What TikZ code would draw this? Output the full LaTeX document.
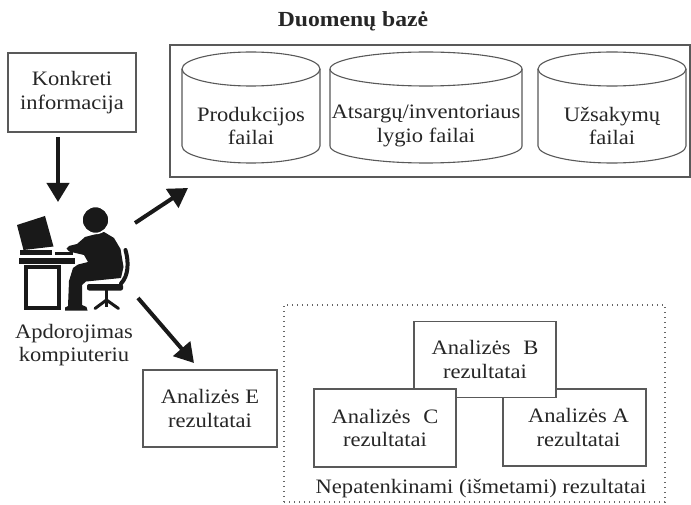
\documentclass[tikz,border=0pt]{standalone}
\usepackage{fontspec}
\setmainfont{Liberation Serif}[FakeStretch=1.1]
\usetikzlibrary{arrows.meta}
\begin{document}
\begin{tikzpicture}[x=1pt,y=-1pt,
  txt/.style={text=black!85, font=\fontsize{20.5}{23.5}\selectfont, align=center, inner sep=0pt},
  box/.style={draw=black!65, line width=1.3pt, fill=white, inner sep=0pt},
  outline/.style={draw=black!65, line width=1.1pt},
  bigarrow/.style={line width=4pt, -{Triangle[length=19pt,width=22pt]}, black!90},
  icon/.style={fill=black!90}]
\useasboundingbox (0,0) rectangle (691,505);

% ---------- database ----------
\node[txt, font=\bfseries\fontsize{21.5}{24}\selectfont, anchor=base] (title) at (353,27) {Duomenų bazė};
\node[box, minimum width=520pt, minimum height=132pt] (db) at (430,111) {};

% cylinders: side lines with front arc, then the top ellipse
\draw[outline] (182,69) -- (182,146) arc[start angle=180, end angle=0, x radius=69, y radius=17] -- (320,69);
\draw[outline] (251,69) ellipse [x radius=69, y radius=17];
\node[txt] (prod) at (251,126) {Produkcijos\\failai};

\draw[outline] (330,69) -- (330,146) arc[start angle=180, end angle=0, x radius=96, y radius=17] -- (522,69);
\draw[outline] (426,69) ellipse [x radius=96, y radius=17];
\node[txt] (stock) at (426,126) {Atsargų/inventoriaus\\lygio failai};

\draw[outline] (538,69) -- (538,146) arc[start angle=180, end angle=0, x radius=74, y radius=17] -- (686,69);
\draw[outline] (612,69) ellipse [x radius=74, y radius=17];
\node[txt] (orders) at (612,126) {Užsakymų\\failai};

% ---------- input ----------
\node[box, txt, minimum width=128pt, minimum height=79pt] (info) at (72,92.5) {Konkreti\\informacija};

% ---------- person at the computer ----------
% monitor and stand
\fill[icon] (17,225) -- (45,216) -- (53.5,246.5) -- (23.5,250) -- cycle;
\fill[icon] (20,250.5) rectangle (52,255);
% keyboard
\fill[icon] (55,252) rectangle (73,255.5);
% desk top and frame
\fill[icon] (19,258.5) rectangle (75,264);
\draw[black!90, line width=4.5pt] (25.8,267) rectangle (59.2,308);
% body
\fill[icon] (85,237) -- (77,244) -- (69,246) -- (66.5,248.5) -- (69,251.5) -- (84,255)
  -- (88,262) -- (78,264.5) -- (73,268) -- (69,281) -- (68,306) -- (65,307.5) -- (65,310.5)
  -- (87.5,310.5) -- (86.5,307) -- (82,305) -- (82,285) -- (86,281.5) -- (121,278)
  -- (123.5,267) -- (120.5,249) -- (114,238) -- (104,232) -- cycle;
% head
\filldraw[fill=black!90, draw=white, line width=1.5pt] (95.5,220) circle[radius=13.5];
% chair
\draw[black!90, line width=4pt, line cap=round] (125.5,250) .. controls (129,262) and (128.5,276) .. (121,283.5);
\fill[icon, rounded corners=2pt] (87,284) rectangle (123,290.5);
\draw[black!90, line width=3.5pt] (106.5,290) -- (106.5,301);
\draw[black!90, line width=3pt, line cap=round] (95,308.5) -- (106.5,300) -- (118.5,308.5);
\draw[black!90, line width=3pt] (106.5,300) -- (106.5,307);
\node[txt] (pc) at (74,345) {Apdorojimas\\kompiuteriu};

% arrow end points
\coordinate (inS) at (58,137);
\coordinate (inE) at (58,202);
\coordinate (upS) at (135,223);
\coordinate (upE) at (188,188);
\coordinate (dnS) at (138,298);
\coordinate (dnE) at (194,363);
\draw[bigarrow] (inS) -- (inE);
\draw[bigarrow] (upS) -- (upE);
\draw[bigarrow] (dnS) -- (dnE);

% ---------- results ----------
\node[box, txt, minimum width=134pt, minimum height=77pt] (resE) at (210,408.5) {Analizės E\\rezultatai};

\node[draw=black!60, line width=1.2pt, dash pattern=on 1.2pt off 3.8pt,
      minimum width=381pt, minimum height=197pt, inner sep=0pt] (rejected) at (474.5,403.5) {};
\node[box, txt, minimum width=143pt, minimum height=77pt] (resA) at (574.5,427.5) {\hspace{8pt}Analizės A\\\hspace{8pt}rezultatai};
\node[box, txt, minimum width=142pt, minimum height=76pt] (resB) at (485,359.5) {Analizės\hspace{0.35em} B\\rezultatai};
\node[box, txt, minimum width=142pt, minimum height=78pt] (resC) at (385,428) {Analizės\hspace{0.35em} C\\rezultatai};
\node[txt, anchor=base] (rejlabel) at (481,493) {Nepatenkinami (išmetami) rezultatai};
\end{tikzpicture}
\end{document}
